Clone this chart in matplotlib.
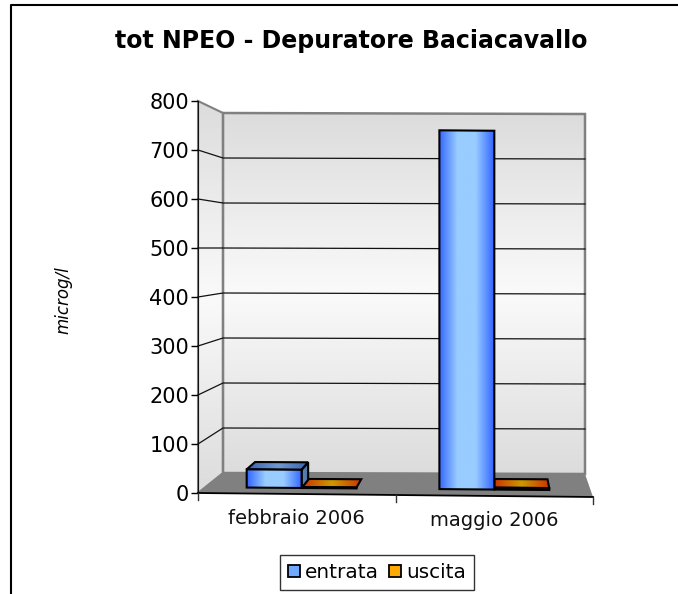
import numpy as np
import matplotlib
matplotlib.use('Agg')
import matplotlib.pyplot as plt
from matplotlib.colors import LinearSegmentedColormap
from matplotlib.patches import Patch, Polygon

# data
categories = ['febbraio 2006', 'maggio 2006']
entrata = [38, 750]
uscita = [2, 4]
y_ticks = [0, 100, 200, 300, 400, 500, 600, 700, 800]

W, H = 678, 594
fig = plt.figure(figsize=(W / 100, H / 100), dpi=100, facecolor='white')

# front plane of the 3d box, in pixels
X0, X1 = 198, 593
Y0, Y800 = 493, 101
ax = fig.add_axes([X0 / W, 1 - Y0 / H, (X1 - X0) / W, (Y0 - Y800) / H])
ax.set_xlim(0, 2)
ax.set_ylim(0, 800)
ax.patch.set_visible(False)


def proj(u, v, d):
    # u = category position, v = value, d = depth 0 (front) to 1 (wall)
    # returns axes data coords of the perspective point
    xf = X0 + 197.5 * u
    yf = Y0 + 2 * u - v * 0.49
    xb = 223 + 181 * u
    yb = 473 + 0.5 * u - v * 0.45
    x = xf + (xb - xf) * d
    y = yf + (yb - yf) * d
    return (x - X0) / 197.5, (Y0 - y) / 0.49


def poly(pts):
    return [proj(*p) for p in pts]


def grad(pts, colors, vertical=False, z=1, edge='black', lw=1.5):
    pts = poly(pts)
    xs, ys = zip(*pts)
    g = np.linspace(0, 1, 256)
    g = g[:, None] if vertical else g[None, :]
    cm = LinearSegmentedColormap.from_list('g', colors)
    im = ax.imshow(g, cmap=cm, extent=[min(xs), max(xs), min(ys), max(ys)],
                   aspect='auto', origin='upper', zorder=z, clip_on=True)
    p = Polygon(pts, closed=True, fc='none', ec=edge, lw=lw, zorder=z + 0.1, clip_on=False)
    ax.add_patch(p)
    im.set_clip_path(p)


wall_cols = ['#dcdcdc', '#fafafa', '#dcdcdc']
# left wall, back wall, floor
grad([(0, 0, 0), (0, 0, 1), (0, 800, 1), (0, 800, 0)], wall_cols, True, z=1, edge='#808080', lw=1.5)
grad([(0, 0, 1), (2, 0, 1), (2, 800, 1), (0, 800, 1)], wall_cols, True, z=1, edge='#808080', lw=1.8)
ax.add_patch(Polygon(poly([(0, 0, 0), (2, 0, 0), (2, 0, 1), (0, 0, 1)]), fc='#808080', ec='none',
                     zorder=1.5, clip_on=False))

# grid
for t in y_ticks[1:-1]:
    pts = poly([(0, t, 0), (0, t, 1), (2, t, 1)])
    ax.plot(*zip(*pts), color='#111111', lw=0.9, zorder=2, clip_on=False)

# bars
D0, D1 = 0.29, 0.68
BW = 0.285
blue = ['#3366ff', '#99ccff', '#99ccff', '#3366ff']
orange = ['#cc3300', '#cc9900', '#cc9900', '#cc3300']
blue_top = ['#3a62b0', '#6f9ad0', '#3a62b0']
orange_top = ['#cc3300', '#cc9900', '#cc3300']
for i, c in enumerate([0.5, 1.5]):
    # uscita first, then entrata in front of it
    u0, u1, v = c, c + BW, uscita[i]
    grad([(u0, 0, D0), (u1, 0, D0), (u1, v, D0), (u0, v, D0)], orange, z=3)
    grad([(u0, v, D0), (u1, v, D0), (u1, v, D1), (u0, v, D1)], orange_top, z=3)
    u0, u1, v = c - BW, c, entrata[i]
    if i == 0:
        grad([(u1, 0, D0), (u1, 0, D1), (u1, v, D1), (u1, v, D0)], ['#5f86b8', '#4a6ea0'], z=4)
        grad([(u0, v, D0), (u1, v, D0), (u1, v, D1), (u0, v, D1)], blue_top, z=4)
    grad([(u0, 0, D0), (u1, 0, D0), (u1, v, D0), (u0, v, D0)], blue, z=5)

# front edge and x ticks follow the tilted floor
ax.plot(*zip(*poly([(0, 0, 0), (2, 0, 0)])), color='black', lw=1.3, zorder=6, clip_on=False)
for u in [0, 1, 2]:
    x, v = proj(u, 0, 0)
    ax.plot([x, x], [v, v - 7 / 0.49], color='#333333', lw=1, zorder=6, clip_on=False)
for i, c in enumerate([0.5, 1.5]):
    x, v = proj(c, 0, 0)
    ax.text(x, v - 25 / 0.49, categories[i], ha='center', va='center', fontsize=14, color='#111111')

ax.set_xticks([])
ax.set_yticks(y_ticks)
ax.tick_params(axis='y', length=5, width=1, labelsize=15, pad=1.5, colors='black')
for s in ['top', 'right', 'bottom']:
    ax.spines[s].set_visible(False)
ax.spines['left'].set_color('#111111')
ax.set_zorder(2)

fig.text(351 / W, 1 - 41 / H, 'tot NPEO - Depuratore Baciacavallo', ha='center', va='center',
         fontsize=17, fontweight='bold', color='black')
fig.text(63 / W, 1 - 300 / H, 'microg/l', rotation=90, style='italic', ha='center', va='center', fontsize=12)

leg = fig.legend(handles=[Patch(fc='#6fa8ff', ec='black', lw=1.3, label='entrata'),
                          Patch(fc='#ffaa00', ec='black', lw=1.3, label='uscita')],
                 loc='center', bbox_to_anchor=(377 / W, 1 - 572.5 / H), ncol=2, fontsize=14.4,
                 fancybox=False, edgecolor='#333333', framealpha=1, handlelength=0.6, handleheight=0.6,
                 handletextpad=0.25, columnspacing=0.5, borderpad=0.4, borderaxespad=0)
leg.get_frame().set_linewidth(1)

# page border, only left and top show
fig.add_artist(plt.Line2D([11 / W, 11 / W, 1], [0, 1 - 5 / H, 1 - 5 / H], color='black', lw=1.5))

fig.savefig('out.png', dpi=100)
